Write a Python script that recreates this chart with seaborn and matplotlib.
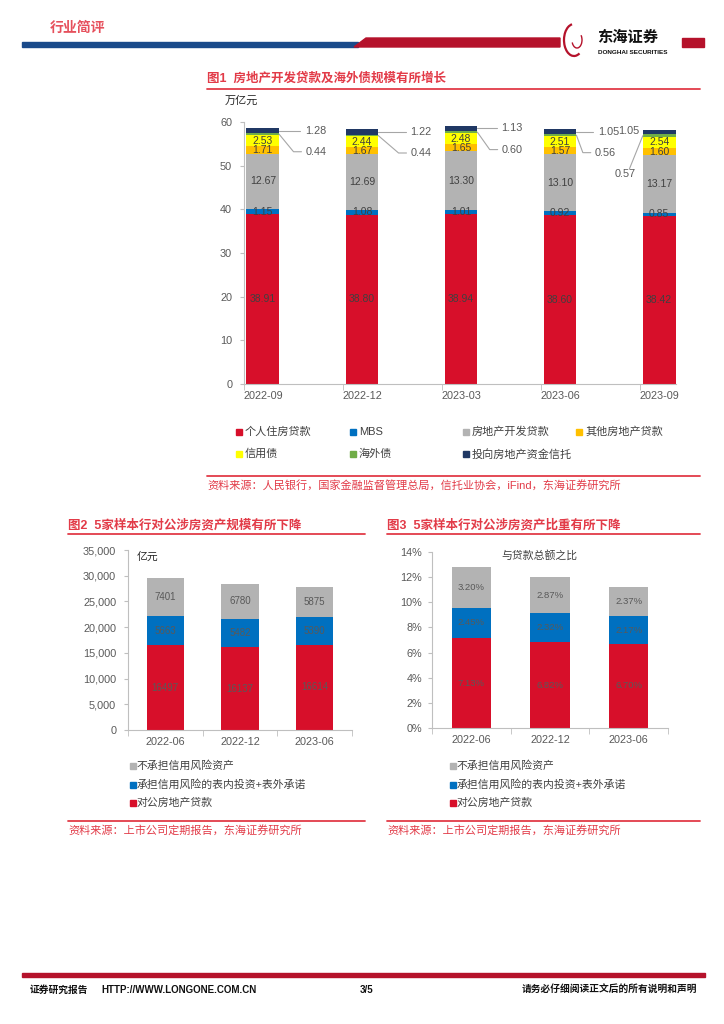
import numpy as np
import pandas as pd
import matplotlib
matplotlib.use("Agg")
import matplotlib.pyplot as plt
import seaborn as sns
from matplotlib.patches import Rectangle, Polygon, Arc
from matplotlib.lines import Line2D
from matplotlib.ticker import FuncFormatter, FixedLocator

sns.set_style("white")
plt.rcParams['font.family'] = ['Liberation Sans', 'Noto Sans CJK SC']

# ---------------- data: figure 1 (万亿元) ----------------
periods1 = ['2022-09', '2022-12', '2023-03', '2023-06', '2023-09']
series1 = ['个人住房贷款', 'MBS', '房地产开发贷款', '其他房地产贷款', '信用债', '海外债', '投向房地产资金信托']
personal_mortgage = [38.91, 38.80, 38.94, 38.60, 38.42]
mbs = [1.15, 1.08, 1.01, 0.92, 0.85]
dev_loans = [12.67, 12.69, 13.30, 13.10, 13.17]
other_re_loans = [1.71, 1.67, 1.65, 1.57, 1.60]
credit_bonds = [2.53, 2.44, 2.48, 2.51, 2.54]
overseas_bonds = [0.44, 0.44, 0.60, 0.56, 0.57]
trust_funds = [1.28, 1.22, 1.13, 1.05, 1.05]

# ---------------- data: figure 2 (亿元) ----------------
periods2 = ['2022-06', '2022-12', '2023-06']
series2 = ['对公房地产贷款', '承担信用风险的表内投资+表外承诺', '不承担信用风险资产']
corp_re_loans = [16497, 16137, 16614]
risk_bearing = [5663, 5482, 5390]
non_risk = [7401, 6780, 5875]

# ---------------- data: figure 3 (% of total loans) ----------------
corp_re_loans_pct = [7.13, 6.82, 6.70]
risk_bearing_pct = [2.45, 2.32, 2.17]
non_risk_pct = [3.20, 2.87, 2.37]

# ---------------- style ----------------
RED = '#d70f2a'
BLUE = '#0070c0'
GREY = '#b3b3b3'
ORANGE = '#ffc000'
YELLOW = '#ffff00'
GREEN = '#70ad47'
NAVY = '#203864'
TITLE_RED = '#e23b48'
TXT = '#595959'
AXC = '#bfbfbf'

W, H = 724, 1024
fig = plt.figure(figsize=(W / 100, H / 100), dpi=100)


def fx(x):
    return x / W


def fy(y):
    return 1 - y / H


def add_axes(l, r, t, b):
    return fig.add_axes([fx(l), fy(b), (r - l) / W, (b - t) / H])


def stacked(ax, cats, vals, colors, width):
    vals = [np.asarray(v, dtype=float) for v in vals]
    cum = np.cumsum(np.vstack(vals), axis=0)
    for k in range(len(vals) - 1, -1, -1):
        df = pd.DataFrame({'period': cats, 'value': cum[k]})
        sns.barplot(data=df, x='period', y='value', color=colors[k], width=width,
                    saturation=1, errorbar=None, linewidth=0, ax=ax)
    return cum


def style_axes(ax, minor_pos, ylabel_pad, fs=7.8):
    for s in ['top', 'right']:
        ax.spines[s].set_visible(False)
    for s in ['left', 'bottom']:
        ax.spines[s].set_color(AXC)
        ax.spines[s].set_linewidth(0.8)
    ax.set_xlabel('')
    ax.set_ylabel('')
    ax.tick_params(axis='y', which='major', length=3, color=AXC, labelcolor=TXT,
                   labelsize=fs, pad=ylabel_pad, left=True)
    ax.tick_params(axis='x', which='major', length=0, labelcolor=TXT, labelsize=fs, pad=5)
    ax.xaxis.set_minor_locator(FixedLocator(minor_pos))
    ax.tick_params(axis='x', which='minor', length=4, color=AXC, bottom=True)
    ax.grid(False)


# ======================= Figure 1 =======================
ax1 = add_axes(244, 676, 122, 384)
vals1 = [personal_mortgage, mbs, dev_loans, other_re_loans, credit_bonds, overseas_bonds, trust_funds]
cols1 = [RED, BLUE, GREY, ORANGE, YELLOW, GREEN, NAVY]
bw1 = 0.33
cum1 = stacked(ax1, periods1, vals1, cols1, bw1)
ax1.set_ylim(0, 60)
ax1.set_yticks(range(0, 61, 10))
ax1.set_xlim(-0.19, 4.17)
style_axes(ax1, [i - 0.19 for i in range(5)], 5.5)

for i in range(len(periods1)):
    for k in range(5):
        v = vals1[k][i]
        ax1.text(i, cum1[k][i] - v / 2, f'{v:.2f}', ha='center', va='center',
                 fontsize=7.5, color='#404040')

# leader-line labels for 海外债 and 信托
navy_dx = [0.43, 0.49, 0.41, 0.38]
green_dx = [0.43, 0.49, 0.41, 0.35]
for i in range(len(periods1)):
    yn = cum1[6][i] - trust_funds[i] / 2
    yg = cum1[5][i] - overseas_bonds[i] / 2
    right = i + bw1 / 2
    if i < 4:
        ax1.plot([right, i + navy_dx[i] - 0.05], [yn, yn], color='#a6a6a6', lw=0.8, clip_on=False)
        ax1.text(i + navy_dx[i], yn, f'{trust_funds[i]:.2f}', ha='left', va='center',
                 fontsize=7.8, color=TXT)
        ty = yg - 4.0
        ax1.plot([right, i + green_dx[i] - 0.12, i + green_dx[i] - 0.04], [yg, ty, ty],
                 color='#a6a6a6', lw=0.8, clip_on=False)
        ax1.text(i + green_dx[i], ty, f'{overseas_bonds[i]:.2f}', ha='left', va='center',
                 fontsize=7.8, color=TXT)
    else:
        left = i - bw1 / 2
        ax1.text(left - 0.03, yn + 0.3, f'{trust_funds[i]:.2f}', ha='right', va='center',
                 fontsize=7.8, color=TXT)
        ty = yg - 8.8
        ax1.plot([left, i - 0.30], [yg, ty + 1.2], color='#a6a6a6', lw=0.8, clip_on=False)
        ax1.text(i - 0.34, ty, f'{overseas_bonds[i]:.2f}', ha='center', va='center',
                 fontsize=7.8, color=TXT)

# title, unit, legend, source
fig.text(fx(207), fy(79), '图1  房地产开发贷款及海外债规模有所增长', color=TITLE_RED,
         fontsize=9, fontweight='bold', va='center', ha='left')
fig.add_artist(Line2D([fx(207), fx(700)], [fy(89), fy(89)], color=TITLE_RED, lw=1.3))
fig.text(fx(225), fy(101), '万亿元', color='#262626', fontsize=8, va='center', ha='left')

leg_x = [239, 353, 466, 579]
leg_y = [432, 454]
for n, (name, c) in enumerate(zip(series1, cols1)):
    r, cidx = divmod(n, 4)
    x0, y0 = leg_x[cidx], leg_y[r]
    fig.add_artist(Rectangle((fx(x0 - 3), fy(y0 + 3)), 6 / W, 6 / H, color=c,
                             transform=fig.transFigure))
    fig.text(fx(x0 + 6), fy(y0), name, color='#404040', fontsize=8, va='center', ha='left')

fig.add_artist(Line2D([fx(207), fx(700)], [fy(476), fy(476)], color=TITLE_RED, lw=1.3))
fig.text(fx(207), fy(485), '资料来源：人民银行，国家金融监督管理总局，信托业协会，iFind，东海证券研究所',
         color=TITLE_RED, fontsize=8, va='center', ha='left')

# ======================= Figure 2 =======================
ax2 = add_axes(128, 352, 550, 730)
vals2 = [corp_re_loans, risk_bearing, non_risk]
cols2 = [RED, BLUE, GREY]
cum2 = stacked(ax2, periods2, vals2, cols2, 0.5)
ax2.set_ylim(0, 35000)
ax2.set_yticks(range(0, 35001, 5000))
ax2.yaxis.set_major_formatter(FuncFormatter(lambda v, p: f'{int(v):,}'))
ax2.set_xlim(-0.5, 2.5)
style_axes(ax2, [-0.5, 0.5, 1.5, 2.5], 5.5)
for i in range(3):
    for k in range(3):
        v = vals2[k][i]
        ax2.text(i, cum2[k][i] - v / 2, f'{v:d}', ha='center', va='center',
                 fontsize=7, color=TXT)
ax2.text(0.04, 0.96, '亿元', transform=ax2.transAxes, fontsize=7.8, color='#262626',
         ha='left', va='center')

# ======================= Figure 3 =======================
ax3 = add_axes(432, 668, 552, 728)
vals3 = [corp_re_loans_pct, risk_bearing_pct, non_risk_pct]
cum3 = stacked(ax3, periods2, vals3, cols2, 0.5)
ax3.set_ylim(0, 14)
ax3.set_yticks(range(0, 15, 2))
ax3.yaxis.set_major_formatter(FuncFormatter(lambda v, p: f'{int(v)}%'))
ax3.set_xlim(-0.5, 2.5)
style_axes(ax3, [-0.5, 0.5, 1.5, 2.5], 4)
for i in range(3):
    for k in range(3):
        v = vals3[k][i]
        ax3.text(i, cum3[k][i] - v / 2, f'{v:.2f}%', ha='center', va='center',
                 fontsize=6.8, color=TXT)
fig.text(fx(539), fy(555), '与贷款总额之比', fontsize=7.8, color='#404040', ha='center', va='center')

# titles / legends / sources for fig 2 & 3
for x0, x1, title in [(68, 365, '图2  5家样本行对公涉房资产规模有所下降'),
                      (387, 700, '图3  5家样本行对公涉房资产比重有所下降')]:
    fig.text(fx(x0), fy(525), title, color=TITLE_RED, fontsize=9, fontweight='bold',
             va='center', ha='left')
    fig.add_artist(Line2D([fx(x0), fx(x1)], [fy(534), fy(534)], color=TITLE_RED, lw=1.3))
    fig.add_artist(Line2D([fx(x0), fx(x1)], [fy(821), fy(821)], color=TITLE_RED, lw=1.3))
    fig.text(fx(x0), fy(830), '资料来源：上市公司定期报告，东海证券研究所', color=TITLE_RED,
             fontsize=8, va='center', ha='left')

for sx in [133, 453]:
    for row, k in enumerate([2, 1, 0]):
        yy = [766, 785, 803][row]
        fig.add_artist(Rectangle((fx(sx - 3), fy(yy + 3)), 6 / W, 6 / H, color=cols2[k],
                                 transform=fig.transFigure))
        fig.text(fx(sx + 4), fy(yy), series2[k], color='#404040', fontsize=7.8,
                 va='center', ha='left')

# ======================= header / footer =======================
HDR_RED = '#b5122b'
HDR_BLUE = '#1a4a8a'
fig.text(fx(50), fy(28), '行业简评', color='#e6505c', fontsize=10, fontweight='bold',
         va='center', ha='left')
fig.add_artist(Rectangle((fx(22), fy(47)), (358 - 22) / W, 5 / H, color=HDR_BLUE,
                         transform=fig.transFigure))
fig.add_artist(Polygon([(fx(354), fy(47)), (fx(366), fy(38)), (fx(560), fy(38)), (fx(560), fy(47))],
                       closed=True, color=HDR_RED, transform=fig.transFigure))
fig.add_artist(Arc((fx(574), fy(40)), 20 / W, 32 / H, theta1=100, theta2=300, color=HDR_RED,
                   lw=1.6, transform=fig.transFigure))
fig.add_artist(Arc((fx(577), fy(40)), 10 / W, 16 / H, theta1=200, theta2=40, color=HDR_RED,
                   lw=1.0, transform=fig.transFigure))
fig.text(fx(597), fy(38), '东海证券', color='#111111', fontsize=11, fontweight='bold',
         va='center', ha='left')
fig.text(fx(598), fy(52), 'DONGHAI SECURITIES', color='#111111', fontsize=4.6,
         fontweight='bold', va='center', ha='left')
fig.add_artist(Rectangle((fx(682), fy(47)), 22 / W, 9 / H, color=HDR_RED,
                         transform=fig.transFigure))

fig.add_artist(Rectangle((fx(22), fy(977)), (705 - 22) / W, 4 / H, color=HDR_RED,
                         transform=fig.transFigure))
fig.text(fx(30), fy(990), '证券研究报告', color='#111111', fontsize=7, fontweight='bold',
         va='center', ha='left')
fig.text(fx(101), fy(990), 'HTTP://WWW.LONGONE.COM.CN', color='#111111', fontsize=7,
         fontweight='bold', va='center', ha='left')
fig.text(fx(367), fy(990), '3/5', color='#111111', fontsize=7, fontweight='bold',
         va='center', ha='center')
fig.text(fx(697), fy(990), '请务必仔细阅读正文后的所有说明和声明', color='#111111', fontsize=7,
         fontweight='bold', va='center', ha='right')

fig.savefig('out.png', dpi=100)
